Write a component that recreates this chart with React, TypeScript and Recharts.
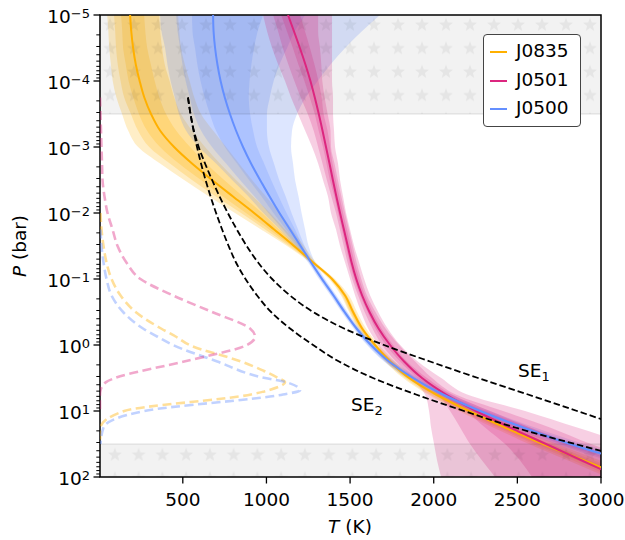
import {
  ComposedChart, Area, Line, XAxis, YAxis,
  ReferenceArea, ReferenceLine, ReferenceDot, Legend,
} from 'recharts'

const FONT = '"DejaVu Sans", sans-serif'

// log10(P / bar) grid of the retrieved profiles
const LOG_P = [-5, -4.75, -4.5, -4.25, -4, -3.75, -3.5, -3.25, -3, -2.75, -2.5, -2.25, -2, -1.75, -1.5,
  -1.25, -1, -0.75, -0.5, -0.25, 0, 0.25, 0.5, 0.75, 1, 1.25, 1.5, 1.75, 2]

// J0835 (K)
const J0835_T = [185, 192, 203, 219, 242, 270, 310, 364, 448, 555, 675, 800, 926, 1046, 1165, 1279, 1392, 1470, 1518, 1572, 1649, 1739, 1853, 2014, 2211, 2427, 2654, 2899, 3144]
const J0835_LO1 = [131, 138, 143, 159, 176, 204, 238, 286, 364, 477, 609, 740, 878, 1016, 1147, 1273, 1386, 1458, 1506, 1560, 1637, 1727, 1841, 1996, 2187, 2397, 2618, 2863, 3102]
const J0835_HI1 = [269, 276, 287, 309, 332, 360, 400, 460, 544, 639, 747, 860, 974, 1076, 1183, 1285, 1398, 1476, 1524, 1578, 1655, 1751, 1865, 2032, 2229, 2451, 2678, 2929, 3174]
const J0835_LO2 = [89, 96, 101, 111, 128, 150, 190, 232, 299, 423, 555, 698, 848, 992, 1135, 1267, 1380, 1452, 1500, 1554, 1631, 1715, 1829, 1978, 2169, 2379, 2594, 2833, 3066]
const J0835_HI2 = [358, 365, 376, 392, 421, 449, 489, 555, 633, 722, 818, 920, 1022, 1112, 1201, 1291, 1404, 1482, 1530, 1584, 1661, 1757, 1877, 2044, 2247, 2469, 2702, 2959, 3210]
const J0835_LO3 = [48, 55, 60, 70, 81, 103, 137, 173, 233, 364, 508, 657, 812, 968, 1123, 1261, 1374, 1446, 1494, 1548, 1625, 1709, 1817, 1966, 2151, 2355, 2570, 2803, 3036]
const J0835_HI3 = [472, 479, 490, 512, 541, 569, 609, 681, 759, 836, 914, 997, 1081, 1154, 1225, 1297, 1410, 1494, 1542, 1596, 1673, 1769, 1889, 2062, 2271, 2499, 2738, 2995, 3252]

// J0501 (K)
const J0501_T = [1129, 1165, 1200, 1233, 1263, 1289, 1313, 1335, 1356, 1377, 1397, 1418, 1440, 1463, 1486, 1509, 1537, 1572, 1616, 1670, 1739, 1823, 1930, 2074, 2253, 2456, 2671, 2886, 3101]
const J0501_LO1 = [1088, 1123, 1158, 1191, 1227, 1259, 1289, 1312, 1338, 1359, 1379, 1406, 1428, 1451, 1474, 1497, 1525, 1560, 1604, 1652, 1715, 1799, 1906, 2050, 2193, 2307, 2427, 2516, 2588]
const J0501_HI1 = [1201, 1231, 1260, 1287, 1311, 1330, 1342, 1365, 1380, 1395, 1415, 1436, 1458, 1481, 1504, 1527, 1555, 1589, 1634, 1688, 1757, 1841, 1960, 2110, 2336, 2575, 2820, 3071, 3328]
const J0501_LO2 = [1040, 1070, 1098, 1131, 1167, 1205, 1247, 1282, 1309, 1335, 1361, 1388, 1416, 1439, 1462, 1485, 1513, 1548, 1587, 1634, 1691, 1775, 1882, 2026, 2098, 2158, 2217, 2289, 2367]
const J0501_HI2 = [1309, 1309, 1320, 1328, 1334, 1348, 1366, 1383, 1386, 1407, 1427, 1448, 1470, 1493, 1516, 1539, 1567, 1601, 1652, 1712, 1793, 1889, 1990, 2132, 2414, 2695, 2940, 3221, 3538]
const J0501_LO3 = [980, 1004, 1034, 1070, 1111, 1147, 1189, 1231, 1273, 1309, 1338, 1368, 1386, 1416, 1440, 1470, 1500, 1530, 1566, 1608, 1667, 1721, 1859, 1948, 1972, 1984, 2002, 2020, 2044]
const J0501_HI3 = [1392, 1392, 1392, 1392, 1392, 1398, 1398, 1404, 1410, 1428, 1440, 1458, 1476, 1500, 1524, 1554, 1584, 1620, 1668, 1725, 1800, 1905, 2045, 2200, 2546, 2857, 3162, 3473, 3772]

// J0500 (K)
const J0500_T = [681, 684, 693, 707, 726, 751, 782, 818, 860, 908, 962, 1019, 1078, 1141, 1204, 1267, 1332, 1401, 1467, 1539, 1625, 1733, 1876, 2056, 2277, 2534, 2815, 3138, 3461]
const J0500_LO1 = [555, 558, 573, 587, 606, 631, 662, 698, 752, 824, 896, 971, 1042, 1117, 1192, 1261, 1326, 1395, 1461, 1533, 1613, 1721, 1864, 2038, 2253, 2504, 2779, 3102, 3419]
const J0500_HI1 = [980, 947, 926, 910, 899, 894, 902, 920, 944, 986, 1028, 1073, 1120, 1171, 1216, 1273, 1338, 1407, 1473, 1545, 1631, 1745, 1888, 2074, 2295, 2558, 2839, 3168, 3491]
const J0500_LO2 = [460, 469, 484, 498, 517, 542, 567, 609, 675, 759, 842, 929, 1012, 1099, 1180, 1255, 1320, 1389, 1455, 1527, 1607, 1709, 1852, 2020, 2235, 2486, 2755, 3072, 3383]
const J0500_HI2 = [1231, 1168, 1123, 1078, 1043, 1020, 1003, 1003, 1015, 1045, 1076, 1115, 1150, 1189, 1228, 1279, 1344, 1413, 1479, 1551, 1637, 1751, 1900, 2086, 2313, 2576, 2863, 3198, 3527]
const J0500_LO3 = [364, 373, 394, 408, 427, 452, 477, 519, 597, 699, 795, 893, 982, 1081, 1168, 1249, 1314, 1383, 1449, 1521, 1601, 1703, 1840, 2008, 2217, 2462, 2731, 3042, 3353]
const J0500_HI3 = [1679, 1569, 1470, 1383, 1306, 1235, 1183, 1153, 1147, 1159, 1171, 1192, 1210, 1231, 1252, 1291, 1350, 1419, 1485, 1557, 1649, 1763, 1912, 2104, 2337, 2606, 2899, 3234, 3569]

// self-emission reference profiles, same pressure grid
const SE1_T = [null, null, null, null, null, 531, 546, 566, 595, 633, 675, 720, 769, 823, 882, 950, 1034, 1141, 1279, 1464, 1703, 1978, 2265, 2564, 2857, 3150, null, null, null]
const SE2_T = [null, null, null, null, null, 531, 546, 564, 585, 609, 636, 666, 699, 735, 774, 818, 875, 944, 1028, 1141, 1279, 1434, 1637, 1894, 2181, 2486, 2845, 3222, null]

// contribution functions (drawn in T units)
const CF_LOG_P = [-3.75, -3.5, -3.25, -3, -2.75, -2.5, -2.25, -2, -1.75, -1.5, -1.25, -1, -0.75, -0.5,
  -0.25, -0.125, 0, 0.25, 0.5, 0.5625, 0.6875, 0.75, 1, 1.25, 1.5]
const CF_J0835 = [null, null, null, null, null, null, null, 8, 14, 26, 44, 74, 128, 218, 370, 460, 540, 848, 1070, 1111, 1010, 908, 150, 8, 5]
const CF_J0501 = [5, 8, 11, 14, 17, 20, 32, 50, 80, 110, 163, 247, 442, 675, 902, 932, 883, 508, 95, 41, 8, 5, 5, null, null]
const CF_J0500 = [null, null, null, null, null, null, null, null, 8, 14, 26, 44, 74, 143, 262, 349, 442, 706, 992, 1117, 1201, 1099, 270, 26, 8]

const X_TICKS = [500, 1000, 1500, 2000, 2500, 3000]
const Y_MAJOR = [-5, -4, -3, -2, -1, 0, 1, 2]
const Y_MINOR: number[] = []
for (let e = -5; e < 2; e++) for (let k = 2; k <= 9; k++) Y_MINOR.push(e + Math.log10(k))

const PROFILES = [
  { name: 'J0835', color: '#FFB000', med: J0835_T, lo: [J0835_LO1, J0835_LO2, J0835_LO3], hi: [J0835_HI1, J0835_HI2, J0835_HI3], cf: CF_J0835 },
  { name: 'J0500', color: '#648FFF', med: J0500_T, lo: [J0500_LO1, J0500_LO2, J0500_LO3], hi: [J0500_HI1, J0500_HI2, J0500_HI3], cf: CF_J0500 },
  { name: 'J0501', color: '#DC267F', med: J0501_T, lo: [J0501_LO1, J0501_LO2, J0501_LO3], hi: [J0501_HI1, J0501_HI2, J0501_HI3], cf: CF_J0501 },
]
const LEGEND_ORDER = ['J0835', 'J0501', 'J0500']

type Row = { lp: number; [key: string]: number | null | undefined }
const rowMap = new Map<number, Row>()
const put = (key: string, grid: number[], vals: (number | null)[]) => {
  grid.forEach((lp, i) => {
    if (!rowMap.has(lp)) rowMap.set(lp, { lp })
    rowMap.get(lp)![key] = vals[i]
  })
}
for (const p of PROFILES) {
  put(`${p.name}_med`, LOG_P, p.med)
  p.lo.forEach((arr, k) => put(`${p.name}_lo${k + 1}`, LOG_P, arr))
  p.hi.forEach((arr, k) => put(`${p.name}_hi${k + 1}`, LOG_P, arr))
  put(`${p.name}_cf`, CF_LOG_P, p.cf)
}
put('se1', LOG_P, SE1_T)
put('se2', LOG_P, SE2_T)
const data = Array.from(rowMap.values()).sort((a, b) => a.lp - b.lp)

const band = (lo: string, hi: string) => (d: Row) =>
  d[lo] == null || d[hi] == null ? [null, null] : [d[lo], d[hi]]

const starPoints = (cx: number, cy: number, R: number, r: number) => {
  const pts: string[] = []
  for (let i = 0; i < 10; i++) {
    const rad = i % 2 === 0 ? R : r
    const a = -Math.PI / 2 + (i * Math.PI) / 5
    pts.push(`${(cx + rad * Math.cos(a)).toFixed(2)},${(cy + rad * Math.sin(a)).toFixed(2)}`)
  }
  return pts.join(' ')
}

function XTick({ x, y, payload }: any) {
  return (
    <g>
      <line x1={x} x2={x} y1={y} y2={y + 6.5} stroke="#000" strokeWidth={1.3} />
      <text x={x} y={y + 29} textAnchor="middle" fontSize={18.5} fontFamily={FONT} fill="#000">
        {payload.value}
      </text>
    </g>
  )
}

function YTick({ x, y, payload }: any) {
  const v = payload.value as number
  const major = Math.abs(v - Math.round(v)) < 1e-9
  if (!major) return <line x1={x} x2={x - 3.7} y1={y} y2={y} stroke="#000" strokeWidth={1} />
  const e = Math.round(v)
  return (
    <g>
      <line x1={x} x2={x - 6.5} y1={y} y2={y} stroke="#000" strokeWidth={1.3} />
      <text x={x - 10} y={y + 8} textAnchor="end" fontSize={18.5} fontFamily={FONT} fill="#000">
        10<tspan dy={-5.5} fontSize={13}>{e < 0 ? `\u2212${-e}` : String(e)}</tspan>
      </text>
    </g>
  )
}

const seLabel = (sub: string) => (props: any) => (
  <text x={props.cx} y={props.cy} fontSize={18.5} fontFamily={FONT} fill="#000">
    SE<tspan dy={4} fontSize={13}>{sub}</tspan>
  </text>
)

function LegendBox() {
  return (
    <div style={{
      position: 'relative', width: 98, height: 93, boxSizing: 'border-box',
      border: '1.3px solid #444', borderRadius: 4, background: '#fff',
      fontFamily: FONT, fontSize: 18.5, color: '#000',
    }}>
      {LEGEND_ORDER.map((name, i) => {
        const p = PROFILES.find(q => q.name === name)!
        return (
          <div key={name} style={{ position: 'absolute', left: 0, top: 3 + i * 28.6, height: 28, width: '100%' }}>
            <div style={{ position: 'absolute', left: 6, top: 13, width: 17, height: 2, background: p.color }} />
            <span style={{ position: 'absolute', left: 32, top: 2, lineHeight: '22px' }}>{name}</span>
          </div>
        )
      })}
    </div>
  )
}

export default function App() {
  return (
    <div style={{
      position: 'fixed', left: 8, top: 0, width: 617, height: 540,
      overflow: 'hidden', fontFamily: FONT, background: '#fff',
    }}>
      <ComposedChart
        width={617}
        height={540}
        data={data}
        layout="vertical"
        margin={{ top: 15, right: 24, bottom: 0, left: 0 }}
      >
        <defs>
          <pattern id="starsTop" patternUnits="userSpaceOnUse" x={90} y={13.2} width={24} height={23.5}>
            <rect width={24} height={23.5} fill="#000" fillOpacity={0.05} />
            <polygon points={starPoints(12, 11.75, 7.2, 3)} fill="#000" fillOpacity={0.055} />
          </pattern>
          <pattern id="starsBottom" patternUnits="userSpaceOnUse" x={95} y={443.2} width={23.75} height={23.5}>
            <rect width={23.75} height={23.5} fill="#000" fillOpacity={0.05} />
            <polygon points={starPoints(11.9, 11.75, 7.2, 3)} fill="#000" fillOpacity={0.055} />
          </pattern>
        </defs>

        <XAxis
          type="number"
          domain={[5, 3000]}
          allowDataOverflow
          ticks={X_TICKS}
          interval={0}
          height={63}
          axisLine={false}
          tickLine={false}
          tickSize={0}
          tickMargin={0}
          tick={<XTick />}
          label={{
            content: () => (
              <text x={342} y={533} textAnchor="middle" fontSize={18.5} fontFamily={FONT} fill="#000">
                <tspan fontStyle="italic">T</tspan> (K)
              </text>
            ),
          }}
        />
        <YAxis
          type="number"
          dataKey="lp"
          domain={[-5, 2]}
          allowDataOverflow
          ticks={[...Y_MAJOR, ...Y_MINOR]}
          interval={0}
          width={92}
          axisLine={false}
          tickLine={false}
          tickSize={0}
          tickMargin={0}
          tick={<YTick />}
          label={{
            content: () => (
              <text
                x={18}
                y={246}
                transform="rotate(-90 18 246)"
                textAnchor="middle"
                fontSize={18.5}
                fontFamily={FONT}
                fill="#000"
              >
                <tspan fontStyle="italic">P</tspan> (bar)
              </text>
            ),
          }}
        />

        {PROFILES.flatMap(p =>
          [3, 2, 1].map(k => (
            <Area
              key={`${p.name}-band${k}`}
              dataKey={band(`${p.name}_lo${k}`, `${p.name}_hi${k}`)}
              type="monotone"
              stroke="none"
              fill={p.color}
              fillOpacity={0.22}
              connectNulls
              dot={false}
              activeDot={false}
              isAnimationActive={false}
            />
          ))
        )}

        <ReferenceArea x1={5} x2={3000} y1={-5} y2={-3.5} fill="url(#starsTop)" fillOpacity={1} stroke="none" />
        <ReferenceArea x1={5} x2={3000} y1={1.5} y2={2} fill="url(#starsBottom)" fillOpacity={1} stroke="none" />
        <ReferenceLine y={-3.5} stroke="#000" strokeOpacity={0.08} strokeWidth={1.5} />
        <ReferenceLine y={1.5} stroke="#000" strokeOpacity={0.08} strokeWidth={1.5} />

        {PROFILES.map(p => (
          <Line
            key={`${p.name}-cf`}
            dataKey={`${p.name}_cf`}
            type="monotone"
            stroke={p.color}
            strokeOpacity={0.4}
            strokeWidth={2.6}
            strokeDasharray="9 4.5"
            dot={false}
            activeDot={false}
            connectNulls
            isAnimationActive={false}
          />
        ))}

        {LEGEND_ORDER.map(name => {
          const p = PROFILES.find(q => q.name === name)!
          return (
            <Line
              key={`${name}-med`}
              dataKey={`${name}_med`}
              type="monotone"
              stroke={p.color}
              strokeWidth={2}
              dot={false}
              activeDot={false}
              connectNulls
              isAnimationActive={false}
            />
          )
        })}

        {['se1', 'se2'].map(k => (
          <Line
            key={k}
            dataKey={k}
            type="monotone"
            stroke="#000"
            strokeWidth={1.8}
            strokeDasharray="6.5 3"
            dot={false}
            activeDot={false}
            connectNulls
            isAnimationActive={false}
          />
        ))}

        <ReferenceDot x={2504} y={0.485} r={0} ifOverflow="visible" shape={seLabel('1')} />
        <ReferenceDot x={1506} y={1.0} r={0} ifOverflow="visible" shape={seLabel('2')} />

        <ReferenceArea x1={5} x2={3000} y1={-5} y2={2} fill="none" stroke="#000" strokeWidth={1.5} ifOverflow="visible" />

        <Legend
          layout="vertical"
          align="center"
          verticalAlign="middle"
          wrapperStyle={{ left: 475, top: 34, width: 98, height: 93 }}
          content={() => <LegendBox />}
        />
      </ComposedChart>
    </div>
  )
}
